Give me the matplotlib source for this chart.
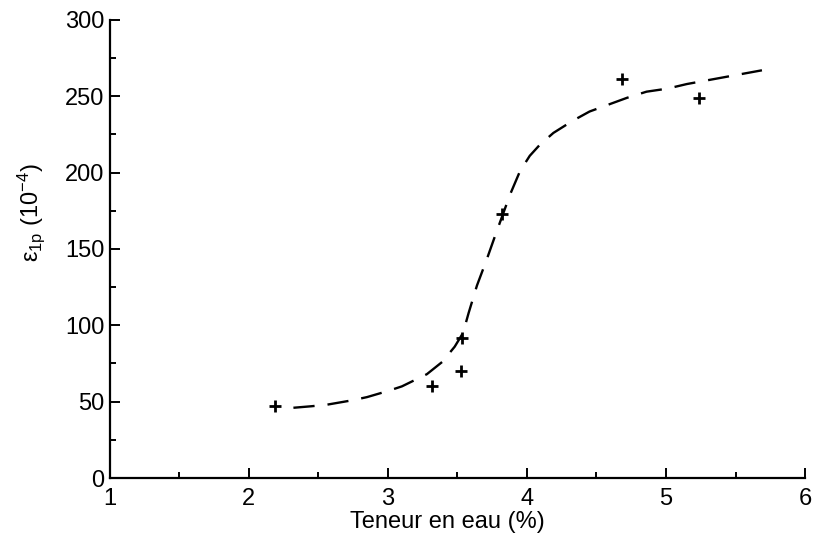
import numpy as np
import matplotlib.pyplot as plt
from matplotlib.ticker import MultipleLocator

plt.rcParams['font.family'] = ['Liberation Sans', 'DejaVu Sans']
plt.rcParams['mathtext.fontset'] = 'custom'
plt.rcParams['mathtext.rm'] = 'Liberation Sans'
plt.rcParams['mathtext.it'] = 'Liberation Sans:italic'

# measured points
teneur = [2.19, 3.32, 3.525, 3.53, 3.82, 4.68, 5.24]
eps = [47, 60, 70, 92, 173, 261, 249]

# dashed trend curve
curve_x = [2.32, 2.45, 2.56, 2.75, 2.85, 3.0, 3.10, 3.28, 3.39, 3.48, 3.54, 3.58,
           3.64, 3.71, 3.78, 3.88, 3.95, 4.02, 4.09, 4.19, 4.33, 4.45, 4.60, 4.72,
           4.86, 5.01, 5.15, 5.39, 5.69]
curve_y = [46, 47, 48, 51, 53, 57, 60, 68, 76, 86, 95, 108,
           126, 143, 161, 186, 201, 211, 218, 226, 234, 240, 245, 249,
           253, 255, 258, 262, 267]

fig = plt.figure(figsize=(8.14, 5.38), dpi=100)
ax = fig.add_axes([0.135, 0.1115, 0.854, 0.8515])

ax.plot(curve_x, curve_y, color='black', linewidth=1.7, dashes=(9, 5.5))
ax.plot(teneur, eps, linestyle='none', marker='+', markersize=9,
        markeredgewidth=2, color='black')

ax.set_xlim(1, 6)
ax.set_ylim(0, 300)
ax.xaxis.set_major_locator(MultipleLocator(1))
ax.xaxis.set_minor_locator(MultipleLocator(0.5))
ax.yaxis.set_major_locator(MultipleLocator(50))
ax.yaxis.set_minor_locator(MultipleLocator(25))

for s in ['top', 'right']:
    ax.spines[s].set_visible(False)
for s in ['left', 'bottom']:
    ax.spines[s].set_linewidth(1.6)

ax.tick_params(which='both', direction='in', width=1.4, labelsize=17)
ax.tick_params(which='major', length=7)
ax.tick_params(which='minor', length=4)
ax.tick_params(axis='x', pad=7)
ax.tick_params(axis='y', pad=4)

ax.set_xlabel('Teneur en eau (%)', fontsize=17)
ax.set_ylabel(r'ε$_{\mathrm{1p}}$ (10$^{-4}$)', fontsize=17)
ax.xaxis.set_label_coords(0.485, -0.073)
ax.yaxis.set_label_coords(-0.09, 0.58)

fig.savefig('out.png', dpi=100)
